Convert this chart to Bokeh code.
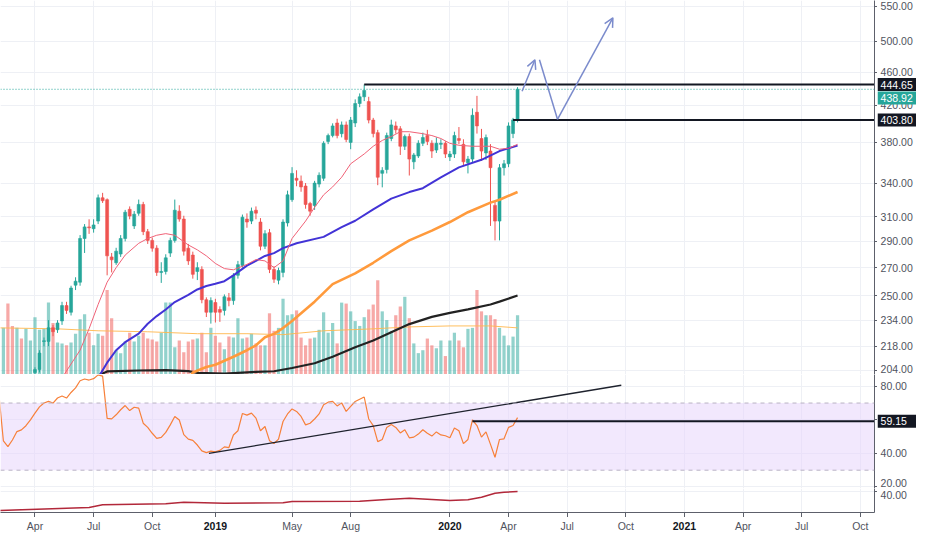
import numpy as np
import pandas as pd
from bokeh.plotting import figure
from bokeh.layouts import gridplot
from bokeh.core.properties import value
from bokeh.models import (ColumnDataSource, Range1d, LinearScale, FixedTicker,
                          CustomJSTickFormatter, Span, Arrow, OpenHead, BoxAnnotation)
from bokeh.embed import file_html
from bokeh.resources import INLINE

# ---------------- data ----------------
dates = pd.date_range("2018-02-05", periods=116, freq="W-MON")

open_ = [188.0, 191.0, 194.0, 188.0, 185.0, 190.0, 187.0, 193.0, 202.9, 204.5,
         220.8, 220.8, 229.2, 228.0, 233.5, 243.5, 239.1, 257.4, 259.5, 292.3,
         301.7, 300.2, 306.5, 326.6, 324.9, 278.0, 273.6, 280.2, 292.3, 316.5,
         302.5, 313.1, 320.7, 297.8, 290.8, 284.7, 266.5, 267.2, 280.9, 290.8,
         314.9, 308.2, 284.7, 279.4, 267.2, 268.7, 247.4, 239.1, 245.5, 240.9,
         240.3, 248.7, 246.8, 264.4, 271.5, 308.2, 306.5, 315.7, 305.7, 286.2,
         297.0, 268.7, 260.9, 266.5, 305.0, 324.9, 344.4, 341.7, 337.2, 321.5,
         319.8, 339.0, 344.4, 380.8, 386.9, 400.4, 388.9, 398.3, 379.8, 400.4,
         422.2, 430.0, 424.4, 403.6, 390.0, 349.1, 352.7, 383.8, 397.2, 394.1,
         375.8, 385.9, 360.2, 366.0, 378.8, 386.9, 378.8, 371.9, 377.8, 378.8,
         365.0, 367.9, 383.8, 377.8, 359.3, 362.9, 412.3, 383.8, 369.0, 370.9,
         319.9, 306.5, 354.5, 358.3, 389.0, 403.8]
high = [193.0, 196.0, 197.0, 191.0, 192.0, 192.0, 195.0, 200.0, 205.8, 215.6,
        223.2, 234.0, 231.0, 234.0, 246.0, 246.0, 257.0, 263.0, 295.0, 304.0,
        308.0, 308.0, 329.5, 331.0, 326.0, 281.0, 285.0, 295.0, 316.0, 319.0,
        315.0, 325.0, 323.0, 300.0, 293.0, 287.0, 274.0, 280.0, 293.0, 325.0,
        320.0, 311.0, 288.0, 282.0, 274.0, 271.0, 249.0, 249.0, 248.0, 243.0,
        251.0, 252.0, 266.0, 275.0, 312.0, 313.0, 318.0, 319.0, 309.0, 299.0,
        300.0, 271.0, 270.0, 308.0, 333.0, 355.0, 352.0, 347.0, 340.0, 323.0,
        342.0, 350.0, 381.0, 389.0, 400.0, 405.0, 402.0, 402.0, 407.0, 427.0,
        434.0, 444.65, 430.0, 406.0, 393.0, 355.0, 390.0, 404.0, 402.0, 397.0,
        388.0, 389.0, 369.0, 382.0, 390.0, 393.0, 382.0, 385.0, 383.0, 381.0,
        371.0, 391.0, 396.0, 383.0, 366.0, 416.6, 431.1, 394.0, 388.0, 378.0,
        323.2, 358.0, 362.0, 401.0, 406.0, 441.5]
low = [185.0, 188.0, 186.0, 183.0, 184.0, 185.0, 186.0, 191.0, 199.5, 202.9,
       217.9, 218.0, 224.0, 226.0, 231.0, 238.0, 237.0, 254.0, 257.0, 281.0,
       296.0, 297.0, 304.0, 322.0, 264.4, 266.5, 272.0, 278.0, 290.0, 308.0,
       300.0, 311.0, 295.0, 288.0, 282.0, 264.0, 259.0, 265.0, 278.0, 289.0,
       306.0, 279.0, 272.0, 262.0, 261.0, 245.0, 236.0, 231.8, 232.5, 232.9,
       237.0, 243.0, 244.0, 262.0, 270.0, 301.0, 304.0, 308.0, 283.0, 284.0,
       266.0, 259.0, 258.0, 263.0, 302.0, 323.0, 337.0, 332.0, 317.0, 311.0,
       316.0, 336.0, 342.0, 378.0, 385.0, 384.0, 385.0, 380.0, 372.8, 396.0,
       418.0, 425.0, 400.0, 385.0, 338.0, 336.0, 349.0, 381.0, 389.0, 367.0,
       372.0, 347.0, 353.0, 364.0, 376.0, 377.0, 364.0, 369.0, 373.0, 364.0,
       361.0, 364.0, 378.0, 356.0, 349.0, 360.0, 389.0, 361.0, 362.0, 302.5,
       290.8, 290.8, 347.0, 355.0, 384.2, 401.0]
close = [191.0, 194.0, 188.0, 185.0, 190.0, 187.0, 193.0, 199.0, 204.5, 213.9,
         221.2, 229.2, 226.8, 232.2, 243.5, 240.3, 255.4, 260.2, 292.3, 301.7,
         300.9, 303.3, 326.6, 324.0, 278.8, 275.8, 282.4, 292.3, 314.0, 310.7,
         312.3, 320.7, 297.8, 290.8, 284.7, 266.5, 267.2, 277.3, 290.8, 315.7,
         308.2, 282.4, 275.0, 265.1, 270.0, 247.4, 239.1, 246.8, 239.1, 239.1,
         249.4, 246.8, 264.4, 272.2, 309.8, 305.7, 314.9, 313.2, 286.2, 296.2,
         268.7, 261.6, 267.9, 305.7, 329.2, 349.0, 342.6, 336.4, 320.7, 314.9,
         339.9, 347.2, 378.8, 386.9, 397.2, 386.9, 398.3, 382.8, 403.6, 422.2,
         430.0, 437.6, 403.6, 389.0, 345.4, 351.9, 386.9, 398.3, 393.1, 375.8,
         385.9, 362.9, 367.0, 378.8, 384.8, 380.8, 370.9, 378.8, 378.8, 367.9,
         367.9, 386.9, 381.8, 360.2, 362.9, 408.9, 397.2, 370.9, 384.8, 354.5,
         306.5, 354.5, 358.3, 397.2, 403.8, 438.92]
volume = [5.0, 4.8, 7.3, 5.0, 4.8, 3.7, 4.7, 3.5, 5.9, 4.6,
          4.7, 7.4, 5.3, 3.3, 3.2, 3.0, 3.3, 4.2, 5.7, 6.2,
          4.3, 3.0, 4.2, 4.0, 8.7, 5.8, 2.5, 2.2, 3.4, 4.3,
          3.4, 4.0, 4.3, 3.7, 3.6, 3.4, 4.3, 7.4, 7.4, 2.8,
          3.5, 2.3, 3.4, 3.6, 3.7, 4.3, 2.3, 4.8, 4.0, 3.3,
          2.6, 3.9, 3.8, 5.8, 3.7, 3.8, 4.2, 3.2, 3.0, 3.0,
          6.3, 4.5, 4.8, 7.8, 6.1, 6.2, 6.6, 3.8, 3.0, 3.7,
          3.8, 4.6, 6.4, 4.3, 5.3, 3.2, 7.4, 7.3, 6.5, 5.5,
          5.0, 5.9, 6.7, 7.2, 9.7, 6.5, 5.6, 4.5, 6.1, 7.0,
          8.0, 5.8, 3.2, 2.2, 2.5, 3.7, 3.0, 2.7, 3.5, 1.9,
          3.5, 4.3, 3.5, 2.8, 4.7, 4.8, 8.7, 6.5, 6.1, 6.1,
          5.7, 4.8, 4.0, 3.0, 3.9, 6.1]
rsi = [75.0, 47.4, 44.0, 48.0, 53.0, 54.0, 56.5, 60.0, 64.0, 67.7,
       70.0, 71.0, 70.0, 73.0, 74.2, 73.0, 76.3, 79.0, 83.3, 84.3,
       83.7, 84.5, 86.8, 86.0, 60.9, 60.6, 63.0, 66.0, 68.5, 65.5,
       67.5, 67.0, 58.0, 55.5, 52.0, 49.0, 49.5, 52.5, 57.0, 62.0,
       59.9, 51.2, 48.5, 47.8, 45.0, 41.5, 40.5, 41.4, 41.0, 41.8,
       43.9, 43.5, 51.0, 53.5, 63.8, 62.8, 64.0, 61.0, 53.5, 56.0,
       47.6, 45.9, 48.5, 59.0, 63.5, 66.5, 65.0, 62.0, 57.0, 58.0,
       60.5, 63.5, 69.0, 70.5, 71.0, 68.3, 70.1, 65.0, 68.0, 70.9,
       72.3, 73.6, 60.5, 56.5, 47.0, 48.3, 55.5, 57.2, 55.5, 52.2,
       54.1, 49.3, 49.7, 51.5, 54.1, 52.0, 50.3, 52.8, 51.0, 50.5,
       49.3, 55.1, 53.5, 45.8, 48.3, 59.9, 56.6, 49.7, 52.8, 45.4,
       37.7, 48.3, 48.7, 55.5, 56.6, 61.3]

# moving averages read at selected weeks (index into dates)
pink_idx = [14, 18, 20, 22, 24, 26, 28, 31, 33, 35, 37, 39, 42, 44, 46, 48, 50, 52, 55, 57,
            59, 61, 63, 65, 68, 70, 72, 74, 76, 78, 81, 83, 85, 87, 89, 91, 94, 96, 98, 100,
            102, 105, 107, 109, 111, 113, 115]
pink_val = [200.0, 215.6, 228.6, 244.2, 259.5, 270.0, 279.4, 288.5, 292.3, 294.9,
            296.2, 294.9, 287.2, 283.4, 278.8, 273.1, 269.3, 268.4, 272.4, 276.0,
            275.0, 270.0, 275.0, 292.3, 306.5, 318.2, 329.2, 336.4, 345.4, 358.3,
            368.0, 375.8, 381.8, 385.9, 391.0, 391.0, 388.9, 386.9, 383.8, 378.8,
            376.8, 375.8, 375.8, 375.8, 372.8, 373.8, 377.8]
blue_idx = [22, 24, 26, 28, 31, 33, 35, 37, 39, 42, 44, 46, 48, 50, 52, 55, 57, 59, 61, 63,
            66, 72, 76, 79, 83, 87, 91, 94, 98, 102, 107, 111, 115]
blue_val = [200.0, 208.4, 215.6, 220.4, 225.6, 231.7, 236.6, 240.9, 245.8, 250.7,
            254.4, 256.8, 258.4, 260.2, 264.4, 271.5, 275.0, 278.7, 280.9, 284.7,
            288.5, 293.6, 301.5, 306.8, 316.5, 325.8, 331.7, 335.2, 345.3, 354.8,
            362.2, 370.9, 376.6]
orange_idx = [42, 43, 46, 48, 50, 52, 55, 57, 59, 61, 63, 65, 70, 74, 79, 83, 87, 91, 96, 100,
              104, 109, 111, 115]
orange_val = [199.0, 202.9, 206.0, 207.2, 209.5, 211.8, 215.6, 218.5, 223.3, 225.4,
              229.0, 233.5, 246.1, 258.1, 265.8, 273.6, 282.4, 290.8, 298.6, 305.7,
              314.0, 322.3, 324.9, 331.8]
black_idx = [21, 24, 31, 37, 42, 44, 50, 57, 61, 65, 70, 74, 79, 83, 87, 91, 96, 100, 104, 109,
             111, 115]
black_val = [200.0, 203.5, 204.0, 204.2, 203.7, 202.7, 202.3, 203.2, 203.6, 205.4,
             208.1, 211.8, 217.4, 221.4, 226.4, 231.5, 236.1, 238.7, 241.0, 244.2,
             246.1, 250.3]
volma_idx = [0, 13, 22, 33, 44, 55, 63, 72, 83, 91, 100, 109, 115]
volma_val = [4.8, 4.7, 4.5, 4.4, 4.2, 4.2, 4.1, 4.5, 4.7, 4.9, 5.0, 5.0, 4.8]
low_idx = [0, 20, 23, 37, 41, 50, 63, 65, 80, 86, 91, 100, 104, 107, 110, 112, 115]
low_val = [20.0, 23.1, 25.8, 26.9, 28.5, 27.5, 27.9, 29.2, 29.5, 31.3, 32.6, 30.3, 31.0,
           33.6, 37.7, 38.8, 39.5]

# drawings
resist_start, resist_level = "2019-08-26", 444.65
support_start, support_level = "2020-04-13", 403.80
last_price = 438.92
rsi_h_start, rsi_h_level = "2020-02-10", 59.15
rsi_trend_dates = ["2018-12-28", "2020-09-28"]
rsi_trend_vals = [40.0, 80.6]
path_dates = ["2020-04-27", "2020-05-17", "2020-05-24", "2020-06-21", "2020-09-15"]
path_prices = [436.6, 475.6, 475.6, 404.4, 533.2]

# axis / tag texts
price_ticks = [204, 218, 234, 250, 270, 290, 310, 340, 380, 420, 460, 500, 550]
rsi_ticks = [20, 40, 60, 80]
low_ticks = [40]
price_tags = ["444.65", "438.92", "403.80"]
price_tag_at = [444.65, 428.5, 403.80]      # 438.92 tag is pushed below the 444.65 tag
rsi_tags = ["59.15"]
xtick_dates = ["2018-04-02", "2018-07-02", "2018-10-01", "2019-01-07", "2019-05-06", "2019-08-05",
               "2020-01-06", "2020-04-06", "2020-07-06", "2020-10-05", "2021-01-04", "2021-04-05",
               "2021-07-05", "2021-10-04"]
xtick_names = ["Apr", "Jul", "Oct", "2019", "May", "Aug", "2020", "Apr", "Jul", "Oct",
               "2021", "Apr", "Jul", "Oct"]

X_START, X_END = "2018-02-07 12:00", "2021-10-26"

# ---------------- style ----------------
TEAL, RED = "#26a69a", "#ef5350"
DARK = "#131722"
GRID = "#eef0f5"
AXIS = "#5d606b"
LBL = "#50535e"
FONT = "Liberation Sans"
FS = "10.5px"
DAY = 86400000.0
FW, SW = 874, 39          # frame width of the panes, width of the label column
H1, H2, H3, HX = 374, 114, 24, 17


def ms(d):
    return pd.Timestamp(d).value / 1e6


xt = [ms(d) for d in xtick_dates]
xr = Range1d(ms(X_START), ms(X_END))
x_end = ms(X_END)
blank = CustomJSTickFormatter(code="return '';")

base = dict(output_backend="svg", toolbar_location=None, tools="", min_border=0,
            background_fill_color="white", border_fill_color="white", outline_line_color=None)


def pane(h, yr, log=False, xaxis=False):
    kw = dict(base, frame_width=FW, frame_height=h, x_range=xr, y_range=yr,
              y_axis_location="right", x_axis_type="datetime",
              x_axis_location="below" if xaxis else None)
    if log:
        kw["y_axis_type"] = "log"
    return figure(**kw)


def style(p, yticks):
    ax = p.yaxis[0]
    ax.ticker = FixedTicker(ticks=yticks)
    ax.formatter = blank
    ax.major_label_text_font_size = "0px"
    ax.major_label_standoff = 0
    ax.axis_line_color = AXIS
    ax.major_tick_line_color = AXIS
    ax.major_tick_out = 3
    ax.major_tick_in = 0
    ax.minor_tick_out = 0
    ax.minor_tick_in = 0
    p.ygrid.ticker = FixedTicker(ticks=yticks)
    p.xgrid.ticker = FixedTicker(ticks=xt)
    p.xgrid.grid_line_color = GRID
    p.ygrid.grid_line_color = GRID


yr1 = Range1d(201.8, 559.0)
yr2 = Range1d(19.1, 87.0)
yr3 = Range1d(17.9, 42.6)
p1 = pane(H1, yr1, log=True)
p2 = pane(H2, yr2)
p3 = pane(H3, yr3, xaxis=True)
style(p1, price_ticks)
style(p2, rsi_ticks)
style(p3, low_ticks)

xa = p3.xaxis[0]
xa.ticker = FixedTicker(ticks=xt)
xa.formatter = blank
xa.major_label_text_font_size = "0px"
xa.major_label_standoff = 0
xa.axis_line_color = AXIS
xa.major_tick_line_color = AXIS
xa.major_tick_out = 5
xa.major_tick_in = 0
xa.minor_tick_out = 0
xa.minor_tick_in = 0

# ---------------- main pane ----------------
o = np.array(open_)
c = np.array(close)
up = c >= o
src = ColumnDataSource(dict(
    t=dates, o=o, h=high, l=low, c=c,
    top=np.maximum(o, c), bot=np.minimum(o, c),
    color=[TEAL if u else RED for u in up], vol=volume))

p1.extra_y_ranges = {"vol": Range1d(0, 38.5)}
p1.extra_y_scales = {"vol": LinearScale()}
p1.vbar(x="t", width=5.0 * DAY, top="vol", bottom=0, fill_color="color", fill_alpha=0.5,
        line_color=None, y_range_name="vol", source=src)
p1.line([dates[i] for i in volma_idx], volma_val, line_color="#ffb74d", line_width=1,
        line_alpha=0.9, y_range_name="vol")

p1.segment(x0="t", y0="h", x1="t", y1="l", line_color="color", line_width=1, source=src)
p1.vbar(x="t", width=4.6 * DAY, top="top", bottom="bot", fill_color="color", line_color="color",
        line_width=0.6, source=src)

p1.line([dates[i] for i in black_idx], black_val, line_color="#222222", line_width=2.2)
p1.line([dates[i] for i in orange_idx], orange_val, line_color="#ff9a3c", line_width=2.6)
p1.line([dates[i] for i in blue_idx], blue_val, line_color="#4233d6", line_width=2)
p1.line([dates[i] for i in pink_idx], pink_val, line_color="#f06277", line_width=1)

p1.add_layout(Span(location=last_price, dimension="width", line_color=TEAL, line_width=1,
                   line_dash="1 2"))
p1.segment(x0=[ms(resist_start)], y0=[resist_level], x1=[x_end], y1=[resist_level],
           line_color=DARK, line_width=2)
p1.segment(x0=[ms(support_start)], y0=[support_level], x1=[x_end], y1=[support_level],
           line_color=DARK, line_width=2)

AR = "#7b8bcc"
pd_ms = [ms(d) for d in path_dates]
p1.add_layout(Arrow(end=OpenHead(size=9, line_color=AR, line_width=1.5),
                    x_start=pd_ms[0], y_start=path_prices[0], x_end=pd_ms[1], y_end=path_prices[1],
                    line_color=AR, line_width=1.5))
p1.line([pd_ms[2], pd_ms[3]], [path_prices[2], path_prices[3]], line_color=AR, line_width=1.5)
p1.add_layout(Arrow(end=OpenHead(size=9, line_color=AR, line_width=1.5),
                    x_start=pd_ms[3], y_start=path_prices[3], x_end=pd_ms[4], y_end=path_prices[4],
                    line_color=AR, line_width=1.5))
p1.add_layout(Span(location=yr1.start, dimension="width", line_color=AXIS, line_width=1.2))

# ---------------- RSI pane ----------------
p2.add_layout(BoxAnnotation(bottom=30, top=70, fill_color="#e7d6fb", fill_alpha=0.55,
                            line_color=None, level="underlay"))
for lv in (30, 70):
    p2.add_layout(Span(location=lv, dimension="width", line_color="#b8b2c4", line_width=1,
                       line_dash="4 4"))
p2.line(dates, rsi, line_color="#f7803a", line_width=1.2)
p2.line([ms(d) for d in rsi_trend_dates], rsi_trend_vals, line_color="#1e222d", line_width=1.3)
p2.segment(x0=[ms(rsi_h_start)], y0=[rsi_h_level], x1=[x_end], y1=[rsi_h_level],
           line_color=DARK, line_width=2)
p2.add_layout(Span(location=yr2.start, dimension="width", line_color=AXIS, line_width=1.2))

# ---------------- lower pane ----------------
p3.line([dates[i] for i in low_idx], low_val, line_color="#b2283a", line_width=1.5)


# ---------------- right label column ----------------
def side(h, yr, log=False):
    kw = dict(base, frame_width=SW, frame_height=h, x_range=Range1d(0, 1), y_range=yr,
              x_axis_location=None, y_axis_location=None)
    if log:
        kw["y_axis_type"] = "log"
    f = figure(**kw)
    f.xgrid.visible = False
    f.ygrid.visible = False
    return f


def tick_labels(f, ticks, dy):
    f.text(x=[0.08] * len(ticks), y=ticks, text=[f"{v:.2f}" for v in ticks], y_offset=dy,
           text_font=value(FONT), text_font_size=FS, text_color=LBL,
           text_baseline="middle", text_align="left")


def tags(f, at, texts, colors):
    f.rect(x=[0.5] * len(at), y=at, width=1, height=13, height_units="screen",
           fill_color=colors, line_color=None)
    f.text(x=[0.08] * len(at), y=at, text=texts, text_font=value(FONT), text_font_size=FS,
           text_color="white", text_baseline="middle", text_align="left")


r1 = side(H1, yr1, log=True)
tick_labels(r1, price_ticks, [-2] + [0] * (len(price_ticks) - 1))
tags(r1, price_tag_at, price_tags, [DARK, TEAL, DARK])
r1.add_layout(Span(location=yr1.start, dimension="width", line_color=AXIS, line_width=1.2))

r2 = side(H2, yr2)
tick_labels(r2, rsi_ticks, [-4, 0, 0, 0])
tags(r2, [rsi_h_level], rsi_tags, [DARK])
r2.add_layout(Span(location=yr2.start, dimension="width", line_color=AXIS, line_width=1.2))

r3 = side(H3, yr3)
tick_labels(r3, low_ticks, [4])

# ---------------- time labels row ----------------
px = figure(**dict(base, frame_width=FW, frame_height=HX, x_range=xr, y_range=Range1d(0, 1),
                   x_axis_location=None, y_axis_location=None))
px.xgrid.visible = False
px.ygrid.visible = False
xsrc = ColumnDataSource(dict(
    x=xt, y=[0.5] * len(xt), text=xtick_names,
    style=["bold" if n.isdigit() else "normal" for n in xtick_names],
    color=[DARK if n.isdigit() else LBL for n in xtick_names]))
px.text(x="x", y="y", text="text", text_font_style="style", text_color="color", source=xsrc,
        text_font=value(FONT), text_font_size=FS, text_align="center", text_baseline="middle")

grid = gridplot([[p1, r1], [p2, r2], [p3, r3], [px, None]], toolbar_location=None)
open("out.html", "w").write(file_html(grid, INLINE))
